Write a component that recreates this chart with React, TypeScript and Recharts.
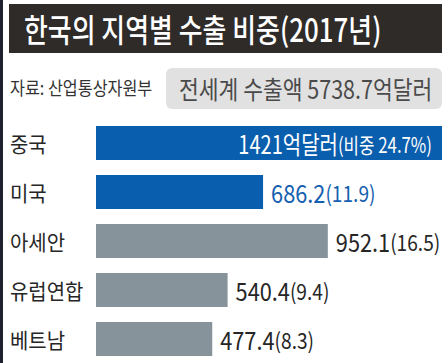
import { BarChart, Bar, XAxis, YAxis, Cell } from "recharts";

const regions = ["중국", "미국", "아세안", "유럽연합", "베트남"];
const exports = [1421, 686.2, 952.1, 540.4, 477.4];
const shares = [24.7, 11.9, 16.5, 9.4, 8.3];
const worldTotal = 5738.7;

const data = regions.map((name, i) => ({ name, value: exports[i], share: shares[i] }));

const FONT = "'Noto Sans CJK KR', 'Noto Sans', sans-serif";
const BLUE = "#0a5eae";
const GRAY = "#87939a";

const RegionTick = ({ y, payload }: any) => (
  <text
    transform={`translate(10,${y}) scale(0.95,1)`}
    dominantBaseline="central"
    fontSize={21}
    fill="#262626"
    fontFamily={FONT}
  >
    {payload.value}
  </text>
);

const ValueLabel = (props: any) => {
  const { x, y, width, height, index } = props;
  const cy = y + height / 2;
  const d = data[index];
  if (index === 0) {
    // biggest bar: label sits inside, white
    return (
      <text
        transform={`translate(${x + width - 10},${cy}) scale(0.8,1)`}
        textAnchor="end"
        dominantBaseline="central"
        fill="#fff"
        fontFamily={FONT}
      >
        <tspan fontSize={25}>{d.value}억달러</tspan>
        <tspan fontSize={21}>(비중 {d.share}%)</tspan>
      </text>
    );
  }
  return (
    <text
      transform={`translate(${x + width + 8},${cy}) scale(0.87,1)`}
      dominantBaseline="central"
      fill={index === 1 ? "#1560b0" : "#262626"}
      fontFamily={FONT}
    >
      <tspan fontSize={25}>{d.value.toFixed(1)}</tspan>
      <tspan fontSize={22}>({d.share})</tspan>
    </text>
  );
};

export default function App() {
  return (
    <div
      style={{
        position: "fixed",
        left: 0,
        top: 0,
        width: 448,
        height: 363,
        background: "#fff",
        overflow: "hidden",
        fontFamily: FONT,
      }}
    >
      <div style={{ position: "absolute", left: 0, top: 0, width: 3, height: 363, background: "#1e2230" }} />
      <div
        style={{
          position: "absolute",
          left: 9,
          top: 4,
          width: 433,
          height: 49,
          background: "#2f2b29",
        }}
      >
        <span
          style={{
            position: "absolute",
            left: 15,
            top: 3,
            fontSize: 32,
            lineHeight: "42px",
            fontWeight: 500,
            color: "#fff",
            whiteSpace: "nowrap",
            transform: "scaleX(0.81)",
            transformOrigin: "left center",
          }}
        >
          한국의 지역별 수출 비중(2017년)
        </span>
      </div>
      <span
        style={{
          position: "absolute",
          left: 10,
          top: 75,
          fontSize: 18,
          lineHeight: "24px",
          color: "#333",
          whiteSpace: "nowrap",
          transform: "scaleX(0.9)",
          transformOrigin: "left center",
        }}
      >
        자료: 산업통상자원부
      </span>
      <div
        style={{
          position: "absolute",
          left: 166,
          top: 68,
          width: 276,
          height: 41,
          background: "#e1e1e1",
          borderRadius: 6,
        }}
      >
        <span
          style={{
            position: "absolute",
            left: 13,
            top: 3,
            fontSize: 25,
            lineHeight: "34px",
            color: "#4a4a4a",
            whiteSpace: "nowrap",
            transform: "scaleX(0.86)",
            transformOrigin: "left center",
          }}
        >
          전세계 수출액 {worldTotal}억달러
        </span>
      </div>
      <div style={{ position: "absolute", left: 0, top: 0 }}>
        <BarChart
          width={448}
          height={363}
          data={data}
          layout="vertical"
          margin={{ top: 118, right: 6, bottom: 0, left: 0 }}
        >
          <XAxis type="number" domain={[0, 1421]} hide />
          <YAxis
            type="category"
            dataKey="name"
            width={96}
            axisLine={false}
            tickLine={false}
            tick={<RegionTick />}
          />
          <Bar dataKey="value" barSize={34} isAnimationActive={false} label={<ValueLabel />}>
            {data.map((d, i) => (
              <Cell key={d.name} fill={i < 2 ? BLUE : GRAY} />
            ))}
          </Bar>
        </BarChart>
      </div>
    </div>
  );
}
